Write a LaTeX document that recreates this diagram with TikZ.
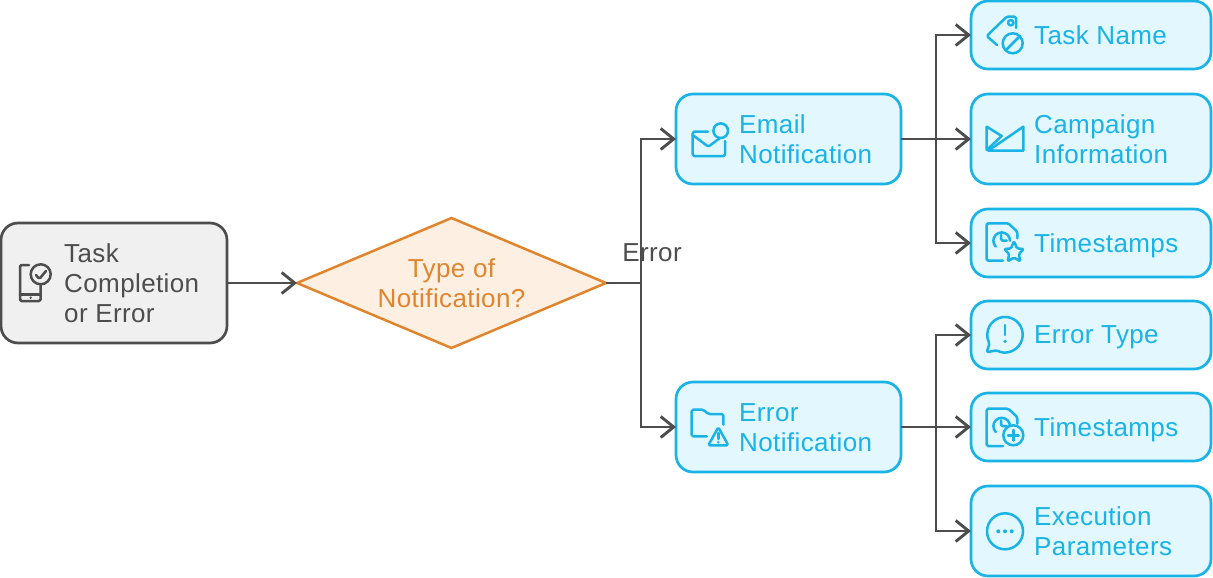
\documentclass[tikz,border=0pt]{standalone}
\usepackage{fontspec}
\setmainfont[LetterSpace=1.5]{Liberation Sans}
\usetikzlibrary{arrows.meta,shapes.geometric}

\definecolor{inkgray}{HTML}{4D4D4D}
\definecolor{fillgray}{HTML}{F0F0F0}
\definecolor{inkblue}{HTML}{19B3E6}
\definecolor{fillblue}{HTML}{E3F7FF}
\definecolor{inkorange}{HTML}{E0852D}
\definecolor{fillorange}{HTML}{FDF0E3}

\tikzset{
    bluebox/.style={draw=inkblue, fill=fillblue, line width=2.7pt, rounded corners=17pt, outer sep=0pt, inner sep=0pt},
    graybox/.style={draw=inkgray, fill=fillgray, line width=2.7pt, rounded corners=17pt, outer sep=0pt, inner sep=0pt},
    decision/.style={diamond, aspect=2.377, draw=inkorange, fill=fillorange, text=inkorange, line width=2.5pt, outer sep=0pt, inner sep=0pt, align=center, font=\fontsize{26}{30}\selectfont},
    bluetext/.style={anchor=west, align=left, inner sep=0pt, text depth=0pt, text=inkblue, font=\fontsize{26}{30}\selectfont},
    graytext/.style={anchor=west, align=left, inner sep=0pt, text depth=0pt, text=inkgray, font=\fontsize{26}{30}\selectfont},
    conn/.style={draw=inkgray, line width=2.9pt, -{Straight Barb[length=13pt,width=21pt]}},
    blueicon/.style={draw=inkblue, line width=2.5pt, line join=round, line cap=round, rounded corners=1.5pt},
    grayicon/.style={draw=inkgray, line width=2.5pt, line join=round, line cap=round, rounded corners=1.5pt},
    % document with a clock, origin at the top left corner of the sheet
    clockdoc/.pic={
        \draw[blueicon] (30.6,15) -- (30.6,8.4) -- (21.6,0) -- (0,0) -- (0,37.4) -- (16.3,37.4);
        \draw[blueicon] (9.1,23.3) arc (135:360:8.3);
        \draw[blueicon] (14.3,11.7) -- (14.3,17.4) -- (20,17.4);
    },
}

\begin{document}
\begin{tikzpicture}[x=1pt, y=1pt, yscale=-1]
    \useasboundingbox (0,0) rectangle (1213,578);

    % boxes
    \node[graybox, minimum width=226pt, minimum height=120pt] (start) at (114,283) {};
    \node[decision, minimum width=309pt, minimum height=130pt] (decide) at (451.5,283) {Type of\\Notification?};
    \node[bluebox, minimum width=225pt, minimum height=90pt] (email) at (788.5,139) {};
    \node[bluebox, minimum width=225pt, minimum height=90pt] (error) at (788.5,427) {};
    \node[bluebox, minimum width=240pt, minimum height=68pt] (taskname) at (1091,35) {};
    \node[bluebox, minimum width=240pt, minimum height=90pt] (campaign) at (1091,139) {};
    \node[bluebox, minimum width=240pt, minimum height=68pt] (stampsa) at (1091,243) {};
    \node[bluebox, minimum width=240pt, minimum height=68pt] (errtype) at (1091,335) {};
    \node[bluebox, minimum width=240pt, minimum height=68pt] (stampsb) at (1091,427) {};
    \node[bluebox, minimum width=240pt, minimum height=90pt] (params) at (1091,531) {};

    % labels
    \node[graytext] (starttext) at (64,283) {Task\\Completion\\or Error};
    \node[bluetext] (emailtext) at (739,139) {Email\\Notification};
    \node[bluetext] (errortext) at (739,427.5) {Error\\Notification};
    \node[bluetext] (tasknametext) at (1034,35) {Task Name};
    \node[bluetext] (campaigntext) at (1034,139) {Campaign\\Information};
    \node[bluetext] (stampsatext) at (1034,243) {Timestamps};
    \node[bluetext] (errtypetext) at (1034,335) {Error Type};
    \node[bluetext] (stampsbtext) at (1034,427) {Timestamps};
    \node[bluetext] (paramstext) at (1034,531) {Execution\\Parameters};

    % connectors
    \coordinate (fork) at (641,283);
    \coordinate (forkmail) at (936,139);
    \coordinate (forkerr) at (936,427);
    \draw[conn] (start.east) -- (decide.west);
    \draw[conn] (decide.east) -- (fork) |- (email.west);
    \draw[conn] (decide.east) -- (fork) |- (error.west);
    \draw[conn] (email.east) -- (forkmail) |- (taskname.west);
    \draw[conn] (email.east) -- (campaign.west);
    \draw[conn] (email.east) -- (forkmail) |- (stampsa.west);
    \draw[conn] (error.east) -- (forkerr) |- (errtype.west);
    \draw[conn] (error.east) -- (stampsb.west);
    \draw[conn] (error.east) -- (forkerr) |- (params.west);
    \node[text=inkgray, inner sep=0pt, font=\fontsize{26}{30}\selectfont] (errorlabel) at (652,253) {Error};

    % phone
    \draw[grayicon] (29,265) -- (20,265) -- (20,301) -- (40.7,301) -- (40.7,285);
    \draw[grayicon] (20,294.3) -- (40.7,294.3);
    \fill[inkgray] (30.7,297.7) circle (1.3);
    \draw[grayicon] (40.7,274.3) circle (10);
    \draw[grayicon] (36,275) -- (39.3,279) -- (46,271);

    % envelope
    \draw[blueicon] (708,131.7) -- (692.7,131.7) -- (692.7,156) -- (725,156) -- (725,141);
    \draw[blueicon] (692.7,135) -- (708.3,146.7) -- (720,138);
    \draw[blueicon] (720.7,130.7) circle (7.3);

    % folder
    \draw[blueicon] (706.7,436.3) -- (691.7,436.3) -- (691.7,409.7) -- (703.3,409.7) -- (708.3,414) -- (723.3,414) -- (723.3,424.7);
    \draw[blueicon] (718.3,427.3) -- (728.3,445.3) -- (708.3,445.3) -- cycle;
    \draw[blueicon] (718.3,433) -- (718.3,439);
    \fill[inkblue] (718.3,442.3) circle (1.4);

    % tag
    \draw[blueicon] (1016,28) -- (1016,16.7) -- (1006.7,16.7) -- (986.7,36) -- (997,45);
    \draw[blueicon] (1010.7,22.7) circle (2.7);
    \draw[blueicon] (1012.7,43.3) circle (10);
    \draw[blueicon] (1005.7,50.3) -- (1019.7,36.3);

    % campaign
    \draw[blueicon, sharp corners] (986.7,126.7) -- (1001.7,136) -- (986.7,150) -- cycle;
    \draw[blueicon, sharp corners] (1023.3,126.7) -- (988.3,150.7) -- (1023.3,150.7) -- cycle;

    % timestamps
    \pic[yscale=-1] at (986.7,223.3) {clockdoc};
    \draw[blueicon, fill=fillblue] (1014,241) -- (1017,248.5) -- (1024,249) -- (1018.7,254) -- (1020.5,261.5) -- (1014,257.5) -- (1007.5,261.5) -- (1009.3,254) -- (1004,249) -- (1011,248.5) -- cycle;
    \pic[yscale=-1] at (986.7,408.7) {clockdoc};
    \draw[blueicon, fill=fillblue] (1013.3,435.3) circle (10);
    \draw[blueicon] (1013.3,430) -- (1013.3,440.6);
    \draw[blueicon] (1008,435.3) -- (1018.6,435.3);

    % speech bubble
    \draw[blueicon] (996.7,350.3) arc (118:-209:17.7) -- (986.7,352.3) -- cycle;
    \draw[blueicon] (1005,325) -- (1005,335);
    \fill[inkblue] (1005,341.3) circle (1.8);

    % dots
    \draw[blueicon] (1005,531.3) circle (18);
    \fill[inkblue] (998.3,531.3) circle (2) (1005,531.3) circle (2) (1011.7,531.3) circle (2);

\end{tikzpicture}
\end{document}
